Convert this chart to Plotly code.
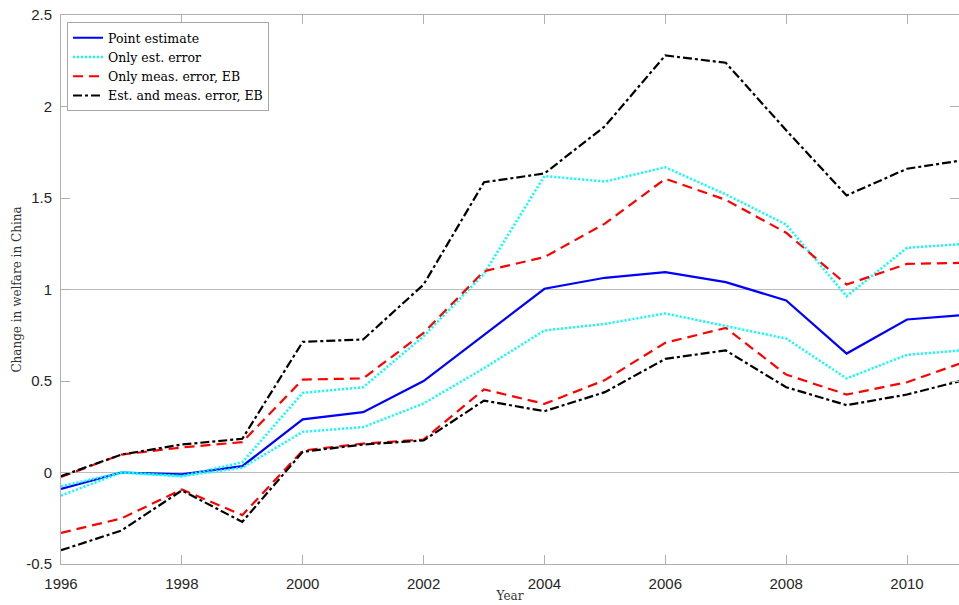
import plotly.graph_objects as go

years = list(range(1996, 2012))

point_estimate = [-0.09, 0.0, -0.01, 0.035, 0.29, 0.33, 0.50, 0.75, 1.004, 1.064, 1.095, 1.04, 0.94, 0.65, 0.836, 0.862]

est_err_upper = [-0.075, 0.0, -0.02, 0.056, 0.435, 0.466, 0.745, 1.086, 1.62, 1.59, 1.668, 1.52, 1.355, 0.963, 1.228, 1.25]
est_err_lower = [-0.126, 0.0, -0.02, 0.026, 0.222, 0.248, 0.377, 0.57, 0.776, 0.812, 0.869, 0.80, 0.732, 0.514, 0.643, 0.67]

meas_err_upper = [-0.024, 0.098, 0.137, 0.166, 0.508, 0.514, 0.763, 1.10, 1.177, 1.36, 1.605, 1.49, 1.31, 1.027, 1.14, 1.146]
meas_err_lower = [-0.33, -0.251, -0.093, -0.233, 0.12, 0.158, 0.18, 0.454, 0.375, 0.505, 0.709, 0.79, 0.535, 0.426, 0.493, 0.61]

both_err_upper = [-0.02, 0.098, 0.153, 0.184, 0.714, 0.727, 1.027, 1.586, 1.634, 1.892, 2.279, 2.239, 1.87, 1.514, 1.66, 1.71]
both_err_lower = [-0.425, -0.317, -0.098, -0.27, 0.113, 0.153, 0.175, 0.393, 0.335, 0.439, 0.621, 0.667, 0.466, 0.368, 0.426, 0.51]

ref_lines = [0, 1]
x_ticks = [1996, 1998, 2000, 2002, 2004, 2006, 2008, 2010]
y_ticks = [-0.5, 0, 0.5, 1, 1.5, 2, 2.5]
y_tick_text = ["-0.5", "0", "0.5", "1", "1.5", "2", "2.5"]

series = [
    ("Point estimate", [point_estimate], dict(color="#0000ff", width=2.2, dash="solid")),
    ("Only est. error", [est_err_upper, est_err_lower], dict(color="#00ffff", width=2.5, dash="2px,2px")),
    ("Only meas. error, EB", [meas_err_upper, meas_err_lower], dict(color="#ff0000", width=2.2, dash="10px,6px")),
    ("Est. and meas. error, EB", [both_err_upper, both_err_lower], dict(color="#000000", width=2.2, dash="9px,3px,3px,3px")),
]

fig = go.Figure()

for yv in ref_lines:
    fig.add_hline(y=yv, line=dict(color="#bdbdbd", width=1), layer="below")

for name, vals_list, line in series:
    for i, vals in enumerate(vals_list):
        fig.add_trace(go.Scatter(
            x=years, y=vals, mode="lines", name=name,
            legendgroup=name, showlegend=(i == 0), line=line,
            hoverinfo="skip",
        ))

serif = "DejaVu Serif, Liberation Serif, serif"
sans = "Liberation Sans, Arial, sans-serif"

fig.update_layout(
    width=959, height=605,
    margin=dict(l=61, r=0, t=15, b=41, autoexpand=False),
    paper_bgcolor="white", plot_bgcolor="white",
    showlegend=True,
    legend=dict(
        x=0.0067, y=0.987, xanchor="left", yanchor="top",
        bgcolor="white", bordercolor="#a8a8a8", borderwidth=1,
        font=dict(family=serif, size=12.5, color="#000000"),
        tracegroupgap=0, itemwidth=30,
    ),
    xaxis=dict(
        range=[1996, 2010.86], tickvals=x_ticks, ticktext=[str(t) for t in x_ticks],
        showgrid=False, zeroline=False, automargin=False,
        showline=True, mirror="ticks", linecolor="#b0b0b0", linewidth=1,
        ticks="inside", ticklen=9, tickcolor="#b0b0b0", tickwidth=1,
        tickfont=dict(family=sans, size=15, color="#262626"),
        ticklabelstandoff=6, ticklabeloverflow="allow",
        title=dict(text="Year", standoff=0,
                   font=dict(family=serif, size=12, color="#333333")),
    ),
    yaxis=dict(
        range=[-0.5, 2.5], tickvals=y_ticks, ticktext=y_tick_text,
        showgrid=False, zeroline=False, automargin=False,
        showline=True, mirror="ticks", linecolor="#b0b0b0", linewidth=1,
        ticks="inside", ticklen=9, tickcolor="#b0b0b0", tickwidth=1,
        tickfont=dict(family=sans, size=15, color="#262626"),
        ticklabelstandoff=5, ticklabeloverflow="allow",
        title=dict(text="Change in welfare in China", standoff=1,
                   font=dict(family=serif, size=12, color="#333333")),
    ),
)

fig.write_html(
    "out.html",
    config={"displayModeBar": False},
    post_script="document.body.style.margin='0';document.body.style.overflow='hidden';",
)
